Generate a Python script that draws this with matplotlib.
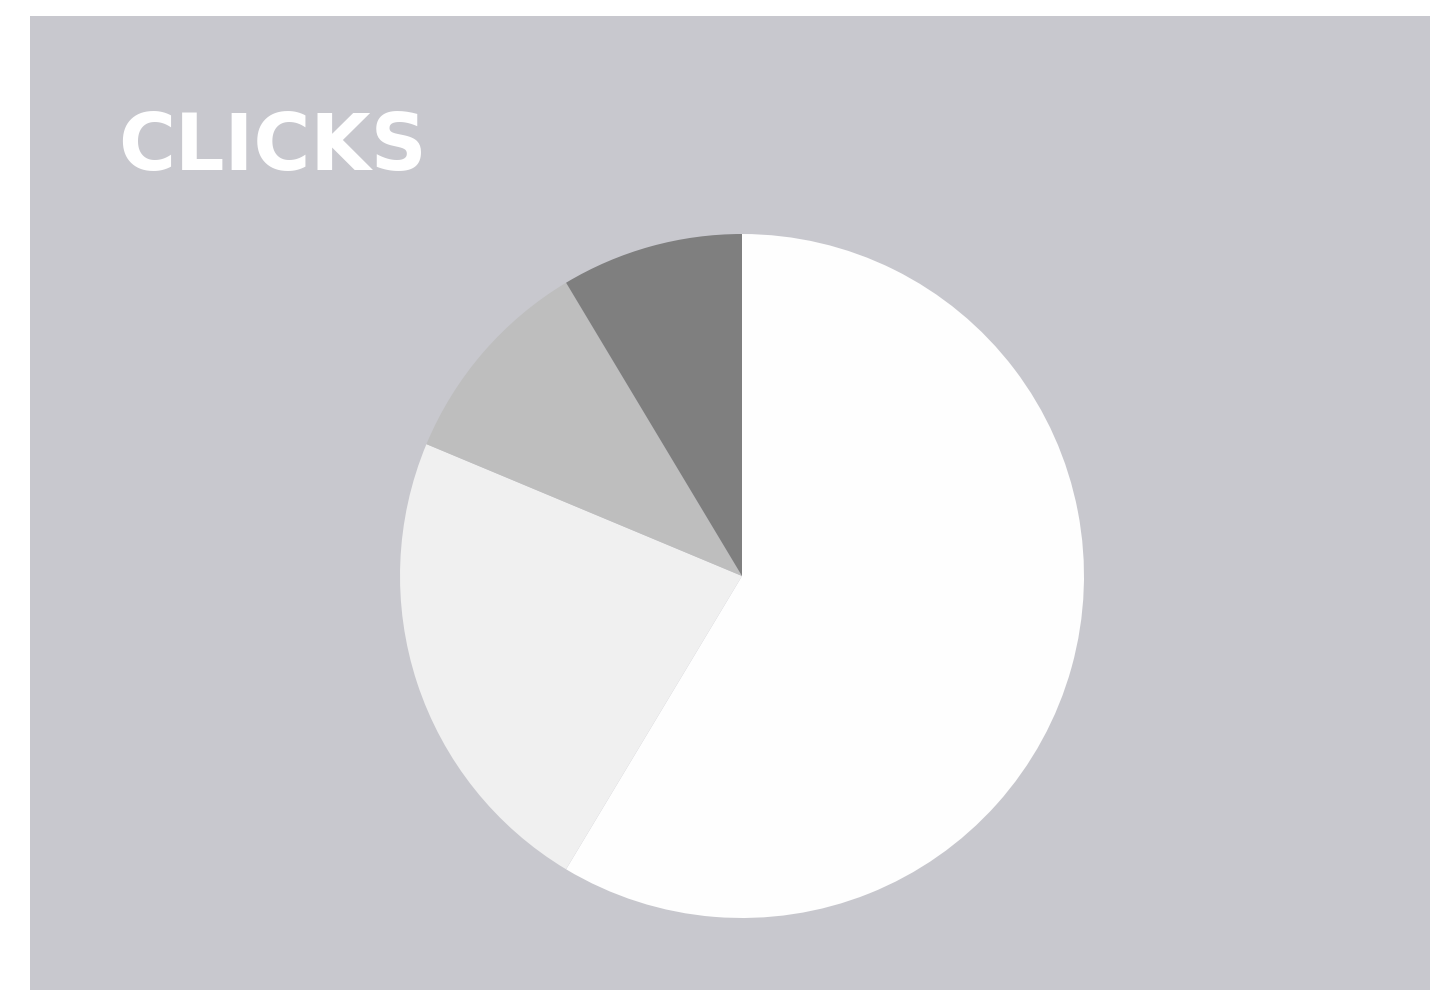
import matplotlib
matplotlib.use("Agg")
import matplotlib.pyplot as plt

title = "CLICKS"
categories = ["A", "B", "C", "D"]
values = [58.6, 22.7, 10.1, 8.6]
colors = ["#fefefe", "#f0f0f0", "#bebebe", "#7f7f7f"]

W, H = 1430, 990
fig = plt.figure(figsize=(W / 100, H / 100), dpi=100)
fig.patch.set_facecolor("white")

bg = fig.add_axes([30 / W, 0, 1 - 30 / W, (H - 16) / H], zorder=0)
bg.set_facecolor("#c8c8ce")
bg.set_xticks([])
bg.set_yticks([])
for s in bg.spines.values():
    s.set_visible(False)

cx, cy, r = 742, 576, 342
ax = fig.add_axes([(cx - r) / W, (H - cy - r) / H, 2 * r / W, 2 * r / H], zorder=1)
ax.pie(values, colors=colors, startangle=90, counterclock=False,
       wedgeprops=dict(linewidth=0), radius=1)
ax.set_xlim(-1, 1)
ax.set_ylim(-1, 1)
ax.set_aspect("equal")
ax.axis("off")

fig.text(118 / W, (H - 170) / H, title, color="white", fontsize=56,
         fontweight="bold", family="DejaVu Sans", ha="left", va="baseline",
         zorder=2)

fig.savefig("out.png", dpi=100)
